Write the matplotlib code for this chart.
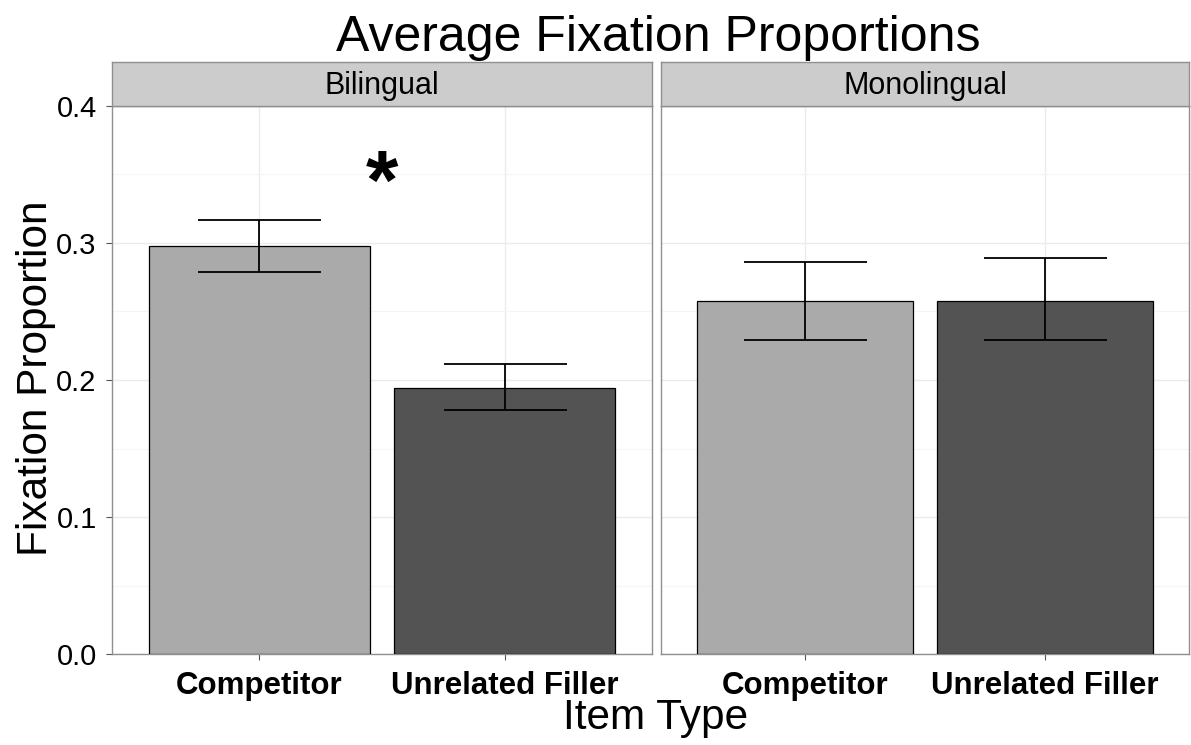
"""
Average fixation proportions by item type, faceted by language group.
"""

import matplotlib
matplotlib.use("Agg")
import matplotlib.pyplot as plt
import numpy as np

plt.rcParams["font.family"] = ["Liberation Sans", "DejaVu Sans"]

GROUPS = ["Bilingual", "Monolingual"]
ITEM_TYPES = ["Competitor", "Unrelated Filler"]

bilingual_means = [0.298, 0.194]
bilingual_lower = [0.279, 0.178]
bilingual_upper = [0.317, 0.212]

monolingual_means = [0.258, 0.258]
monolingual_lower = [0.229, 0.229]
monolingual_upper = [0.286, 0.289]

significance = ["*", ""]  # marker shown between bars, per group

Y_TICKS = [0.0, 0.1, 0.2, 0.3, 0.4]

BAR_COLORS = ["#AAAAAA", "#535353"]
BORDER = "#8F8F8F"
STRIP_FILL = "#CCCCCC"

W, H = 1191, 745
fig = plt.figure(figsize=(W / 100, H / 100), dpi=100)


def fx(px):
    return px / W


def fy(px):
    return 1 - px / H


panels = [(112, 652), (661, 1189)]
top, bottom, strip_top = 106, 654, 62

data = [
    (bilingual_means, bilingual_lower, bilingual_upper),
    (monolingual_means, monolingual_lower, monolingual_upper),
]

for i, ((left, right), group, (means, lower, upper)) in enumerate(zip(panels, GROUPS, data)):
    ax = fig.add_axes([fx(left), fy(bottom), fx(right - left), fy(top) - fy(bottom)])
    x = np.arange(1, len(ITEM_TYPES) + 1)
    means = np.array(means)
    err = [means - np.array(lower), np.array(upper) - means]

    ax.bar(x, means, width=0.9, color=BAR_COLORS, edgecolor="black", linewidth=0.9, zorder=3)
    ax.errorbar(x, means, yerr=err, fmt="none", ecolor="black", elinewidth=1.3,
                capsize=61.5 * 0.72, capthick=1.3, zorder=4)

    ax.set_xlim(0.4, 2.6)
    ax.set_ylim(0, 0.4)
    ax.set_xticks(x)
    ax.set_xticklabels(ITEM_TYPES, fontsize=22.5, fontweight="bold")
    ax.set_yticks(Y_TICKS)
    ax.set_yticks(np.arange(0.05, 0.4, 0.1), minor=True)
    if i == 0:
        ax.set_yticklabels([f"{v:.1f}" for v in Y_TICKS], fontsize=21)
    else:
        ax.tick_params(axis="y", which="both", left=False, labelleft=False)
    ax.tick_params(axis="both", which="major", length=4, color="#555555", pad=7)
    ax.tick_params(axis="y", which="minor", length=0)
    ax.tick_params(axis="x", pad=8)

    ax.grid(which="major", color="#EBEBEB", linewidth=1.0, zorder=0)
    ax.grid(which="minor", axis="y", color="#F5F5F5", linewidth=0.8, zorder=0)
    for spine in ax.spines.values():
        spine.set_color(BORDER)
        spine.set_linewidth(1.0)

    if significance[i]:
        ax.text(1.5, 0.341, significance[i], ha="center", va="center",
                fontsize=60, fontweight="bold")

    strip = fig.add_axes([fx(left), fy(top), fx(right - left), fy(strip_top) - fy(top)])
    strip.set_facecolor(STRIP_FILL)
    strip.set_xticks([])
    strip.set_yticks([])
    for spine in strip.spines.values():
        spine.set_color(BORDER)
        spine.set_linewidth(1.0)
    strip.text(0.5, 0.45, group, ha="center", va="center", fontsize=22,
               transform=strip.transAxes)

fig.text(fx(658), fy(38), "Average Fixation Proportions", ha="center", va="center", fontsize=36)
fig.text(fx(36), fy(378), "Fixation Proportion", ha="center", va="center", rotation=90, fontsize=30.5)
fig.text(fx(656), fy(718), "Item Type", ha="center", va="center", fontsize=30.5)

fig.savefig("out.png", dpi=100)
